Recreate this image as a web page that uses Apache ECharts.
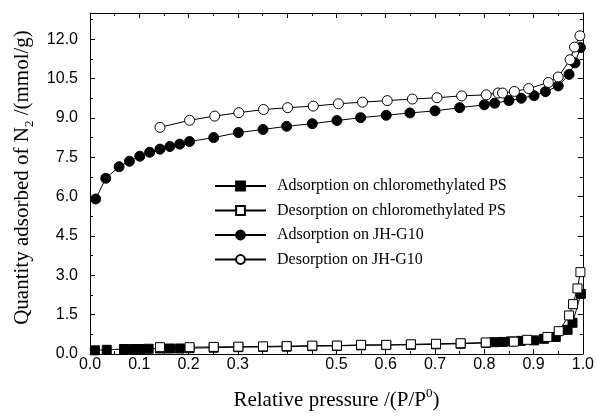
<!DOCTYPE html>
<html>
<head>
<meta charset="utf-8">
<script src="https://cdn.jsdelivr.net/npm/echarts@6/dist/echarts.min.js"></script>
<style>html,body{margin:0;padding:0;background:#fff}#c{width:597px;height:416px}</style>
</head>
<body>
<div id="c"></div>
<script>
// Relative pressure (x) and quantity adsorbed (y, mmol/g)
const psAdsX = [0.010, 0.034, 0.069, 0.088, 0.101, 0.119, 0.142, 0.162, 0.182, 0.202, 0.251, 0.301, 0.351, 0.399, 0.451, 0.501, 0.550, 0.601, 0.651, 0.702, 0.752, 0.803, 0.820, 0.837, 0.854, 0.874, 0.901, 0.921, 0.945, 0.969, 0.979, 0.996];
const psAdsY = [0.14, 0.16, 0.19, 0.19, 0.19, 0.20, 0.21, 0.21, 0.21, 0.22, 0.24, 0.26, 0.27, 0.28, 0.30, 0.31, 0.33, 0.34, 0.35, 0.37, 0.39, 0.42, 0.45, 0.46, 0.48, 0.50, 0.52, 0.58, 0.65, 0.92, 1.19, 2.29];
const psDesX = [0.142, 0.202, 0.251, 0.301, 0.351, 0.399, 0.451, 0.501, 0.550, 0.601, 0.651, 0.702, 0.752, 0.803, 0.860, 0.887, 0.928, 0.951, 0.972, 0.980, 0.989, 0.995];
const psDesY = [0.26, 0.26, 0.27, 0.28, 0.29, 0.30, 0.32, 0.32, 0.35, 0.35, 0.37, 0.39, 0.41, 0.44, 0.47, 0.54, 0.65, 0.87, 1.47, 1.90, 2.50, 3.12];
const jhAdsX = [0.0115, 0.032, 0.059, 0.080, 0.101, 0.121, 0.142, 0.162, 0.182, 0.202, 0.251, 0.301, 0.351, 0.399, 0.451, 0.501, 0.549, 0.601, 0.649, 0.700, 0.750, 0.800, 0.821, 0.850, 0.875, 0.901, 0.924, 0.950, 0.972, 0.984, 0.995];
const jhAdsY = [5.91, 6.70, 7.14, 7.35, 7.54, 7.69, 7.81, 7.91, 8.00, 8.10, 8.25, 8.44, 8.56, 8.68, 8.78, 8.90, 9.01, 9.10, 9.19, 9.27, 9.39, 9.50, 9.56, 9.66, 9.75, 9.85, 10.00, 10.22, 10.66, 11.10, 11.68];
const jhDesX = [0.142, 0.202, 0.253, 0.302, 0.352, 0.401, 0.453, 0.504, 0.553, 0.603, 0.654, 0.704, 0.754, 0.804, 0.828, 0.837, 0.861, 0.890, 0.930, 0.950, 0.974, 0.983, 0.994];
const jhDesY = [8.64, 8.91, 9.07, 9.20, 9.32, 9.39, 9.45, 9.54, 9.60, 9.66, 9.72, 9.77, 9.84, 9.88, 9.95, 9.95, 10.01, 10.12, 10.35, 10.56, 11.22, 11.70, 12.13];
const seriesNames = ['Adsorption on chloromethylated PS', 'Desorption on chloromethylated PS', 'Adsorption on JH-G10', 'Desorption on JH-G10'];
const xTickLabels = ['0.0', '0.1', '0.2', '0.3', '', '0.5', '0.6', '0.7', '0.8', '0.9', '1.0'];

const zip = (xs, ys) => xs.map((x, i) => [x, ys[i]]);
const chart = echarts.init(document.getElementById('c'), null, {renderer: 'canvas'});
const axisCommon = {
  axisLine: {onZero: false, lineStyle: {color: '#000', width: 1}},
  axisTick: {inside: true, length: 5, lineStyle: {color: '#000'}},
  minorTick: {show: true, splitNumber: 2, length: 3, lineStyle: {color: '#000'}},
  splitLine: {show: false},
};
function mkSeries(name, data, symbol, filled) {
  return {
    name, type: 'line', data, symbol,
    symbolSize: symbol === 'rect' ? 9 : 10,
    showAllSymbol: true,
    lineStyle: {color: '#000', width: 1},
    itemStyle: {color: filled ? '#000' : '#fff', borderColor: '#000', borderWidth: 1},
    emphasis: {disabled: true},
    animation: false
  };
}
const serif = 'Liberation Serif';
chart.setOption({
  animation: false,
  grid: {left: 90, right: 12, top: 13, bottom: 57, containLabel: false},
  legend: {
    orient: 'vertical', left: 209, top: 173,
    itemWidth: 51, itemHeight: 11, itemGap: 8.5,
    textStyle: {fontFamily: serif, fontSize: 16, lineHeight: 16, color: '#000', padding: [0, 0, 0, 6]},
    data: seriesNames
  },
  xAxis: [
    Object.assign({}, axisCommon, {
      type: 'value', min: 0, max: 1, interval: 0.1, position: 'bottom',
      name: '{a|Relative pressure /(P/P}{s|0}{a|)}', nameLocation: 'middle', nameGap: 33,
      nameTextStyle: {rich: {
        a: {fontFamily: serif, fontSize: 21, color: '#000', lineHeight: 24, verticalAlign: 'bottom'},
        s: {fontFamily: serif, fontSize: 13, color: '#000', lineHeight: 24, verticalAlign: 'top'}
      }},
      axisLabel: {
        margin: 3, fontFamily: 'Liberation Sans', fontSize: 16, color: '#000',
        formatter: v => xTickLabels[Math.round(v * 10)]
      }
    }),
    Object.assign({}, axisCommon, {
      type: 'value', min: 0, max: 1, interval: 0.1, position: 'top', axisLabel: {show: false}
    })
  ],
  yAxis: [
    Object.assign({}, axisCommon, {
      type: 'value', min: 0, max: 13, interval: 1.5, position: 'left',
      name: '{a|Quantity adsorbed of N}{s|2}{a| /(mmol/g)}', nameLocation: 'middle', nameGap: 54,
      nameTextStyle: {padding: [0, 0, 0, 12], rich: {
        a: {fontFamily: serif, fontSize: 21, color: '#000', lineHeight: 24, verticalAlign: 'top'},
        s: {fontFamily: serif, fontSize: 13, color: '#000', lineHeight: 24, verticalAlign: 'bottom'}
      }},
      axisLabel: {
        margin: 12, fontFamily: 'Liberation Sans', fontSize: 16, color: '#000', showMaxLabel: false,
        formatter: v => v.toFixed(1)
      }
    }),
    Object.assign({}, axisCommon, {
      type: 'value', min: 0, max: 13, interval: 1.5, position: 'right', axisLabel: {show: false}
    })
  ],
  series: [
    mkSeries(seriesNames[0], zip(psAdsX, psAdsY), 'rect', true),
    mkSeries(seriesNames[1], zip(psDesX, psDesY), 'rect', false),
    mkSeries(seriesNames[2], zip(jhAdsX, jhAdsY), 'circle', true),
    mkSeries(seriesNames[3], zip(jhDesX, jhDesY), 'circle', false)
  ]
});
</script>
</body>
</html>
